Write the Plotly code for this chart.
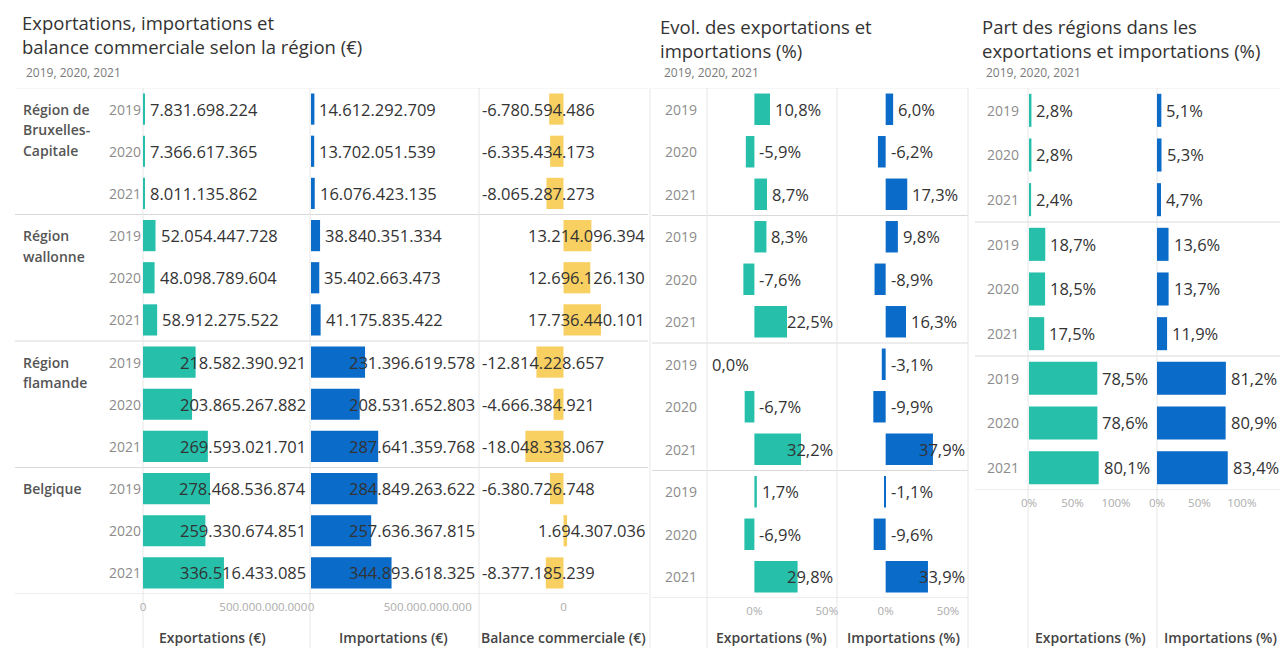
import plotly.graph_objects as go

# ---------------- DATA ----------------
regions = ["Région de<br>Bruxelles-<br>Capitale", "Région<br>wallonne", "Région<br>flamande", "Belgique"]
years = ["2019", "2020", "2021"]

exports_eur = [7831698224, 7366617365, 8011135862,
               52054447728, 48098789604, 58912275522,
               218582390921, 203865267882, 269593021701,
               278468536874, 259330674851, 336516433085]
imports_eur = [14612292709, 13702051539, 16076423135,
               38840351334, 35402663473, 41175835422,
               231396619578, 208531652803, 287641359768,
               284849263622, 257636367815, 344893618325]
balance_eur = [-6780594486, -6335434173, -8065287273,
               13214096394, 12696126130, 17736440101,
               -12814228657, -4666384921, -18048338067,
               -6380726748, 1694307036, -8377185239]

evol_exports_pct = [10.8, -5.9, 8.7, 8.3, -7.6, 22.5, 0.0, -6.7, 32.2, 1.7, -6.9, 29.8]
evol_imports_pct = [6.0, -6.2, 17.3, 9.8, -8.9, 16.3, -3.1, -9.9, 37.9, -1.1, -9.6, 33.9]

share_exports_pct = [2.8, 2.8, 2.4, 18.7, 18.5, 17.5, 78.5, 78.6, 80.1]
share_imports_pct = [5.1, 5.3, 4.7, 13.6, 13.7, 11.9, 81.2, 80.9, 83.4]

eur_tickvals = [0, 500000000000]
bal_tickvals = [0]
evol_tickvals = [0, 50]
share_tickvals = [0, 50, 100]

titles = {
    "p1": ["Exportations, importations et", "balance commerciale selon la région (€)"],
    "p2": ["Evol. des exportations et", "importations (%)"],
    "p3": ["Part des régions dans les", "exportations et importations (%)"],
}
subtitle = "2019, 2020, 2021"

# ---------------- STYLE ----------------
W, H = 1282, 648
FONT = "Open Sans"
TEAL = "#25BFAA"
BLUE = "#0A6BC8"
YELLOW = "#F8D062"
TXT = "#333333"
YEARC = "#8c8c8c"
TICKC = "#ababab"
LINEC = "#dadada"
VLINEC = "#e6e6e6"
VAL_FS = 16.5


def fx(p):
    return p / W


def fy(p):
    return 1 - p / H


def fmt_eur(v):
    return ("-" if v < 0 else "") + f"{abs(v):,}".replace(",", ".")


def fmt_pct(v):
    return f"{v:.1f}".replace(".", ",") + "%"


CHAR_EM = {".": 0.266, ",": 0.25, "-": 0.322, "%": 0.832}


def text_w(t, fs):
    return sum(CHAR_EM.get(c, 0.572) for c in t) * fs


def place(v, rng, dom, text, mode, fs=VAL_FS, pad=3):
    w = text_w(text, fs)
    ppu = (dom[1] - dom[0]) / (rng[1] - rng[0])
    to_px = lambda d: dom[0] + (d - rng[0]) * ppu
    to_d = lambda p: rng[0] + (p - dom[0]) / ppu
    if mode == "end":
        if v >= 0:
            anchor, edge = "left", to_px(v) + pad
        else:
            anchor, edge = "right", to_px(v) - pad
    else:  # negatives labelled on the right of the zero line
        if v > 0:
            anchor, edge = "left", to_px(v) + pad
        elif v < 0:
            anchor, edge = "left", to_px(0) + pad
        else:
            anchor, edge = "right", to_px(0) - pad
    left = edge if anchor == "left" else edge - w
    if left + w > dom[1] - 1:
        return to_d(dom[1] - 1), "right"
    if left < dom[0] + 1:
        return to_d(dom[0] + 1), "left"
    return to_d(edge), anchor


# panel geometry (pixels)
P1_Y = (88, 594)
P2_Y = (88, 598)
P3_Y = (88, 490)

panels = [
    dict(vals=exports_eur, fmt=fmt_eur, color=TEAL, xd=(143, 309), yd=P1_Y, rng=[0, 690e9],
         tv=eur_tickvals, tt=["0", "500.000.000.000"], mode="end", title="Exportations (€)", tx=212),
    dict(vals=imports_eur, fmt=fmt_eur, color=BLUE, xd=(311, 478), yd=P1_Y, rng=[0, 715e9],
         tv=eur_tickvals, tt=["0", "500.000.000.000"], mode="end", title="Importations (€)", tx=393),
    dict(vals=balance_eur, fmt=fmt_eur, color=YELLOW, xd=(479, 648), yd=P1_Y, rng=[-40e9, 40e9],
         tv=bal_tickvals, tt=["0"], mode="end", title="Balance commerciale (€)", tx=563),
    dict(vals=evol_exports_pct, fmt=fmt_pct, color=TEAL, xd=(708, 836), yd=P2_Y, rng=[-32, 56.3],
         tv=evol_tickvals, tt=["0%", "50%"], mode="zero", title="Exportations (%)", tx=772),
    dict(vals=evol_imports_pct, fmt=fmt_pct, color=BLUE, xd=(837, 968), yd=P2_Y, rng=[-39, 66],
         tv=evol_tickvals, tt=["0%", "50%"], mode="zero", title="Importations (%)", tx=903),
    dict(vals=share_exports_pct, fmt=fmt_pct, color=TEAL, xd=(1029, 1156), yd=P3_Y, rng=[0, 146],
         tv=share_tickvals, tt=["0%", "50%", "100%"], mode="end", title="Exportations (%)", tx=1090),
    dict(vals=share_imports_pct, fmt=fmt_pct, color=BLUE, xd=(1157, 1280), yd=P3_Y, rng=[0, 145],
         tv=share_tickvals, tt=["0%", "50%", "100%"], mode="end", title="Importations (%)", tx=1220),
]

fig = go.Figure()
layout = dict(
    width=W, height=H, margin=dict(l=0, r=0, t=0, b=0, autoexpand=False),
    paper_bgcolor="white", plot_bgcolor="white", showlegend=False,
    font=dict(family=FONT, color=TXT),
    bargap=0.26,
)
annotations = []
shapes = []

for i, p in enumerate(panels, start=1):
    n = len(p["vals"])
    rows = list(range(n))
    xa = "x" if i == 1 else f"x{i}"
    ya = "y" if i == 1 else f"y{i}"
    fig.add_trace(go.Bar(
        x=p["vals"], y=rows, orientation="h", xaxis=xa, yaxis=ya,
        marker=dict(color=p["color"], line=dict(width=0)), width=0.74,
        hoverinfo="skip",
    ))
    layout["xaxis" if i == 1 else f"xaxis{i}"] = dict(
        domain=[fx(p["xd"][0]), fx(p["xd"][1])], range=p["rng"], anchor=ya,
        showgrid=False, zeroline=False, showline=False, ticks="", automargin=False,
        tickvals=p["tv"], ticktext=p["tt"], fixedrange=True,
        tickfont=dict(size=11.5, color=TICKC, family=FONT), ticklabelstandoff=4,
    )
    layout["yaxis" if i == 1 else f"yaxis{i}"] = dict(
        domain=[fy(p["yd"][1]), fy(p["yd"][0])], range=[n - 0.5, -0.5], anchor=xa,
        showgrid=False, zeroline=False, showline=False, showticklabels=False, fixedrange=True,
        automargin=False,
    )
    for r, v in zip(rows, p["vals"]):
        t = p["fmt"](v)
        x, anc = place(v, p["rng"], p["xd"], t, p["mode"])
        annotations.append(dict(
            x=x, y=r, xref=xa, yref=ya, text=t, showarrow=False, xanchor=anc, yanchor="middle",
            font=dict(size=VAL_FS, color=TXT, family=FONT),
        ))
    annotations.append(dict(
        x=fx(p["tx"]), y=fy(637), xref="paper", yref="paper", text=p["title"], showarrow=False,
        xanchor="center", yanchor="middle", font=dict(size=14, color="#444444", family=FONT, weight=600),
    ))

# year & region row headers
panel_rows = [("y", 12, 107), ("y4", 12, 663), ("y6", 9, 985)]
for yref, n, xleft in panel_rows:
    for r in range(n):
        annotations.append(dict(
            x=fx(xleft), y=r, xref="paper", yref=yref, text=years[r % 3], showarrow=False,
            xanchor="left", yanchor="middle", font=dict(size=14, color=YEARC, family=FONT),
        ))

for g, reg in enumerate(regions):
    for k, line in enumerate(reg.split("<br>")):
        annotations.append(dict(
            x=fx(21), y=g * 3, xref="paper", yref="y", text=line, showarrow=False,
            xanchor="left", yanchor="middle", yshift=-20.5 * k, align="left",
            font=dict(size=14, color="#555555", family=FONT, weight=600),
        ))

# titles
for (key, x0, ys) in [("p1", 20, (22, 47)), ("p2", 658, (27, 50)), ("p3", 980, (27, 50))]:
    for line, yy in zip(titles[key], ys):
        annotations.append(dict(
            x=fx(x0), y=fy(yy), xref="paper", yref="paper", text=line, showarrow=False,
            xanchor="left", yanchor="middle", font=dict(size=18.5, color=TXT, family=FONT),
        ))
for x0 in (24, 662, 984):
    annotations.append(dict(
        x=fx(x0), y=fy(72), xref="paper", yref="paper", text=subtitle, showarrow=False,
        xanchor="left", yanchor="middle", font=dict(size=12, color="#7a7a7a", family=FONT),
    ))

# horizontal group dividers
for yref, n, x0, x1 in [("y", 12, 15, 648), ("y4", 12, 652, 968), ("y6", 9, 975, 1280)]:
    for k in range(n // 3 + 1):
        yv = k * 3 - 0.5
        shapes.append(dict(
            type="line", xref="paper", yref=yref, x0=fx(x0), x1=fx(x1), y0=yv, y1=yv,
            line=dict(color="#eeeeee" if k == 0 else LINEC, width=1), layer="below",
        ))

# vertical column dividers
for xv in (143, 310, 479, 650, 707, 837, 968, 1028, 1157):
    shapes.append(dict(
        type="line", xref="paper", yref="paper", x0=fx(xv), x1=fx(xv), y0=fy(88), y1=fy(648),
        line=dict(color=VLINEC, width=1), layer="below",
    ))

layout["annotations"] = annotations
layout["shapes"] = shapes
fig.update_layout(**layout)
fig.write_html(
    "out.html",
    config={"displayModeBar": False},
    post_script="document.body.style.margin='0';document.body.style.overflow='hidden';",
)
